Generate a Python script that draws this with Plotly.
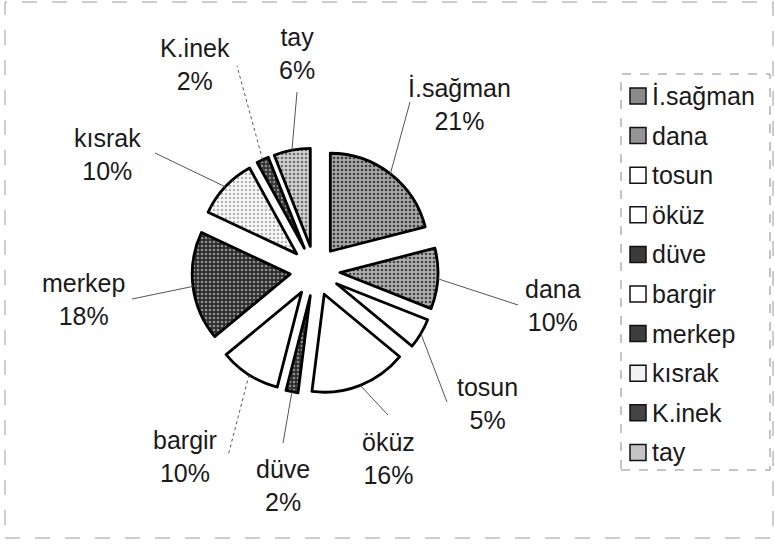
import math
import plotly.graph_objects as go

# Livestock categories and their shares (%)
labels = ["İ.sağman", "dana", "tosun", "öküz", "düve", "bargir", "merkep", "kısrak", "K.inek", "tay"]
shares = [21, 10, 5, 16, 2, 10, 18, 10, 2, 6]

# Slice fills: background tone and stipple tone
fill_bg = ["#a9a9a9", "#b0b0b0", "#ffffff", "#ffffff", "#2e2e2e",
           "#ffffff", "#2c2c2c", "#fbfbfb", "#353535", "#d2d2d2"]
fill_fg = ["#3c3c3c", "#454545", "#ffffff", "#ffffff", "#8c8c8c",
           "#ffffff", "#909090", "#b4b4b4", "#8a8a8a", "#707070"]
swatch = ["#8a8a8a", "#959595", "#ffffff", "#ffffff", "#3a3a3a",
          "#ffffff", "#3e3e3e", "#f2f2f2", "#444444", "#c4c4c4"]

# Figure geometry (pixels)
W, H = 775, 544
CX, CY = 315, 271          # pie centre
R = 98                     # pie radius
PULL_PX = 25               # explode distance
FONT = "Liberation Sans, Arial, sans-serif"
FS = 25

# Label block centres and leader-line end points (pixels)
label_pos = [(460, 104), (553, 305), (487, 403), (388, 458), (283, 485),
             (185, 456), (83, 299), (107, 154), (195, 64), (297, 54)]
leader_end = [(410, 102), (518, 305), (447, 402), (388, 415), (283, 443),
              (228, 456), (132, 299), (155, 153), (237, 66), (297, 92)]
leader_dash = ["solid", "solid", "solid", "solid", "solid",
               "dot", "solid", "solid", "dot", "solid"]


def px(x):
    return x / W


def py(y):
    return 1 - y / H


half = R + PULL_PX
pull = PULL_PX / R

fig = go.Figure(go.Pie(
    labels=labels,
    values=shares,
    sort=False,
    direction="clockwise",
    rotation=0,
    pull=[pull] * len(shares),
    textinfo="none",
    hoverinfo="label+percent",
    showlegend=False,
    domain=dict(x=[px(CX - half), px(CX + half)], y=[py(CY + half), py(CY - half)]),
    marker=dict(
        colors=fill_bg,
        line=dict(color="#000000", width=2.8),
        pattern=dict(shape=["."] * len(shares), fgcolor=fill_fg, bgcolor=fill_bg,
                     size=4, solidity=0.35, fillmode="replace"),
    ),
))

annotations = []
shapes = []

# Outer frame and legend frame
shapes.append(dict(type="rect", xref="paper", yref="paper",
                   x0=px(5), x1=px(773), y0=py(538), y1=py(2),
                   line=dict(color="#9a9a9a", width=1, dash="longdash")))
shapes.append(dict(type="rect", xref="paper", yref="paper",
                   x0=px(621), x1=px(770), y0=py(470), y1=py(74),
                   line=dict(color="#8a8a8a", width=1, dash="dash")))

# Data labels with leader lines starting at the middle of each slice's arc
total = sum(shares)
cum = 0
for i, (lab, v) in enumerate(zip(labels, shares)):
    mid = (cum + v / 2) / total * 2 * math.pi
    cum += v
    sx = CX + half * math.sin(mid)
    sy = CY - half * math.cos(mid)
    ex, ey = leader_end[i]
    shapes.append(dict(type="line", xref="paper", yref="paper",
                       x0=px(sx), y0=py(sy), x1=px(ex), y1=py(ey),
                       line=dict(color="#555555", width=1, dash=leader_dash[i])))
    lx, ly = label_pos[i]
    annotations.append(dict(
        x=px(lx), y=py(ly), xref="paper", yref="paper",
        text=f"{lab}<br>{round(v / total * 100)}%", showarrow=False,
        xanchor="center", yanchor="middle", align="center",
        font=dict(family=FONT, size=FS, color="#1a1a1a"),
    ))

# Legend
for i, lab in enumerate(labels):
    yc = 96 + i * 39.6
    shapes.append(dict(type="rect", xref="paper", yref="paper",
                       x0=px(630), x1=px(646), y0=py(yc + 8), y1=py(yc - 8),
                       fillcolor=swatch[i], line=dict(color="#111111", width=1.5)))
    annotations.append(dict(
        x=px(650), y=py(yc), xref="paper", yref="paper",
        text=lab, showarrow=False, xanchor="left", yanchor="middle",
        font=dict(family=FONT, size=FS, color="#1a1a1a"),
    ))

fig.update_layout(
    width=W, height=H,
    margin=dict(l=0, r=0, t=0, b=0),
    paper_bgcolor="#ffffff",
    plot_bgcolor="#ffffff",
    shapes=shapes,
    annotations=annotations,
)

fig.write_html("out.html")
